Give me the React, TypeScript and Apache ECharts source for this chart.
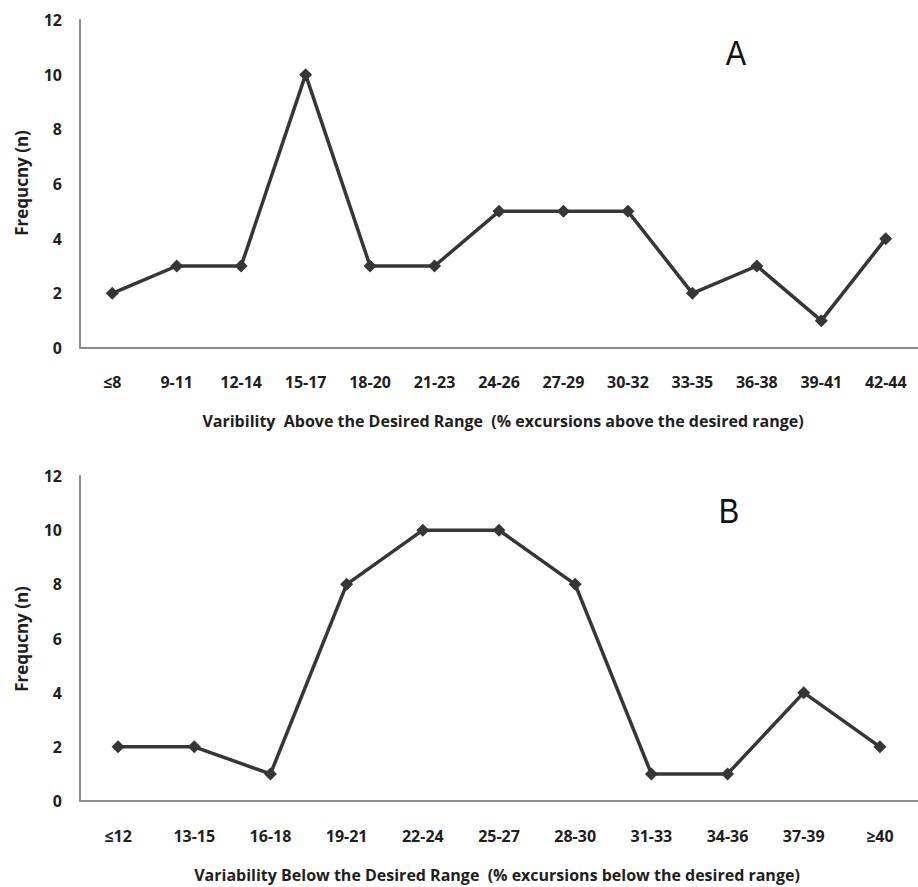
import React, { useEffect, useRef } from "react";
import * as echarts from "echarts";

const categoriesA = ["≤8", "9-11", "12-14", "15-17", "18-20", "21-23", "24-26", "27-29", "30-32", "33-35", "36-38", "39-41", "42-44"];
const valuesA = [2, 3, 3, 10, 3, 3, 5, 5, 5, 2, 3, 1, 4];
const categoriesB = ["≤12", "13-15", "16-18", "19-21", "22-24", "25-27", "28-30", "31-33", "34-36", "37-39", "≥40"];
const valuesB = [2, 2, 1, 8, 10, 10, 8, 1, 1, 4, 2];
const xTitleA = "Varibility  Above the Desired Range  (% excursions above the desired range)";
const xTitleB = "Variability Below the Desired Range  (% excursions below the desired range)";
const yTitle = "Frequcny (n)";

const FONT = "'Open Sans', sans-serif";
const LINE = "#363636";
const AXIS = "#8c8c8c";
const TEXT = "#1e1e1e";

export default function App() {
  const ref = useRef<HTMLDivElement>(null);
  useEffect(() => {
    if (!ref.current) return;
    const chart = echarts.init(ref.current, null, { renderer: "svg" });
    const xAxisCommon = {
      type: "category",
      boundaryGap: true,
      axisLine: { show: true, lineStyle: { color: AXIS, width: 2 } },
      axisTick: { show: false },
      axisLabel: { color: TEXT, fontFamily: FONT, fontWeight: "bold", fontSize: 16, margin: 26, interval: 0 },
      splitLine: { show: false },
    };
    const yAxisCommon = {
      type: "value",
      min: 0,
      max: 12,
      interval: 2,
      axisLine: { show: true, lineStyle: { color: AXIS, width: 2 } },
      axisTick: { show: false },
      axisLabel: { color: TEXT, fontFamily: FONT, fontWeight: "bold", fontSize: 16, margin: 18 },
      splitLine: { show: false },
    };
    const seriesCommon = {
      type: "line",
      symbol: "diamond",
      symbolSize: 13,
      lineStyle: { color: LINE, width: 3.5 },
      itemStyle: { color: LINE },
    };
    const titleStyle = { fontFamily: FONT, fontWeight: "bold", fontSize: 16, fill: TEXT, align: "center", verticalAlign: "middle" };
    const yNameStyle = { ...titleStyle, fontSize: 17 };
    const letterStyle = { fontFamily: "'Liberation Sans', Arial, sans-serif", fontSize: 36, fill: "#111", align: "center", verticalAlign: "middle" };
    chart.setOption({
      animation: false,
      backgroundColor: "#fff",
      grid: [
        { left: 80, top: 20, width: 846, height: 328 },
        { left: 80, top: 476, width: 838, height: 325 },
      ],
      xAxis: [
        { ...xAxisCommon, gridIndex: 0, data: categoriesA },
        { ...xAxisCommon, gridIndex: 1, data: categoriesB, axisLabel: { ...xAxisCommon.axisLabel, margin: 27 } },
      ],
      yAxis: [
        { ...yAxisCommon, gridIndex: 0 },
        { ...yAxisCommon, gridIndex: 1 },
      ],
      series: [
        { ...seriesCommon, xAxisIndex: 0, yAxisIndex: 0, data: valuesA },
        { ...seriesCommon, xAxisIndex: 1, yAxisIndex: 1, data: valuesB },
      ],
      graphic: [
        { type: "text", x: 503, y: 421, style: { ...titleStyle, text: xTitleA } },
        { type: "text", x: 497, y: 875, style: { ...titleStyle, text: xTitleB } },
        { type: "text", x: 21, y: 183, rotation: Math.PI / 2, style: { ...yNameStyle, text: yTitle } },
        { type: "text", x: 21, y: 639, rotation: Math.PI / 2, style: { ...yNameStyle, text: yTitle } },
        { type: "text", x: 736, y: 53, scaleX: 0.85, style: { ...letterStyle, text: "A" } },
        { type: "text", x: 729, y: 511, scaleX: 0.85, style: { ...letterStyle, text: "B" } },
      ],
    });
    return () => chart.dispose();
  }, []);
  return <div ref={ref} style={{ position: "absolute", left: 0, top: 0, width: 918, height: 887 }} />;
}
